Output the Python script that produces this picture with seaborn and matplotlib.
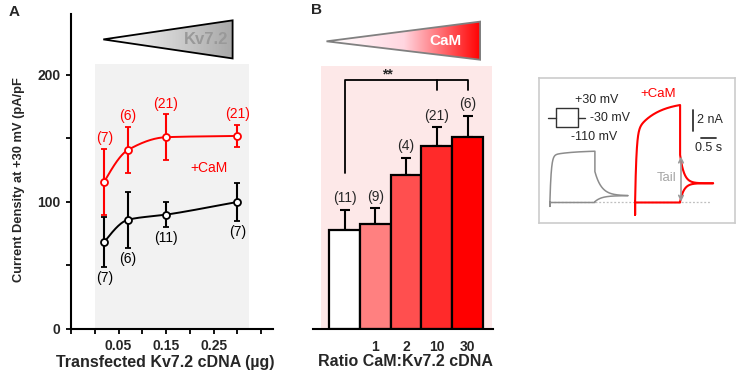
import numpy as np
import matplotlib
matplotlib.use('Agg')
import matplotlib.pyplot as plt
import seaborn as sns
import pandas as pd
from matplotlib.patches import Polygon
from matplotlib.colors import LinearSegmentedColormap

# panel A: current density vs transfected Kv7.2 cDNA
dna_ug = [0.02, 0.07, 0.15, 0.30]
kv_mean = [68.5, 86, 90, 100]
kv_sem = [20, 22, 10, 15]
kv_n = ['(7)', '(6)', '(11)', '(7)']
cam_mean = [116, 141, 151, 152]
cam_sem = [26, 18, 18, 9]
cam_n = ['(7)', '(6)', '(21)', '(21)']

# panel B: CaM:Kv7.2 ratio
ratio_cat = ['0', '1', '2', '10', '30']
ratio_ticks = ['', '1', '2', '10', '30']
ratio_mean = [78, 83, 121, 144, 151]
ratio_sem = [16, 12, 14, 15, 17]
ratio_n = ['(11)', '(9)', '(4)', '(21)', '(6)']
bar_colors = ['#ffffff', '#ff8080', '#ff4f4f', '#ff2a2a', '#ff0000']

# inset traces (s, nA)
step_dur = 1.5
tail_dur = 1.1
ctl_peak, ctl_end, ctl_tail_start, ctl_tail_end = 4.4, 4.8, 2.86, 0.57
cam_peak, cam_end, cam_tail_start, cam_tail_end = 6.6, 9.2, 4.45, 1.75

sns.set_style('white')
plt.rcParams['font.family'] = ['Liberation Sans', 'DejaVu Sans']

RED = '#ff0000'
fig = plt.figure(figsize=(7.38, 3.76), dpi=100)


def pchip(x, y, xs):
    x = np.asarray(x, float)
    y = np.asarray(y, float)
    h = np.diff(x)
    d = np.diff(y) / h
    m = np.zeros(len(x))
    for k in range(1, len(x) - 1):
        if d[k - 1] * d[k] > 0:
            w1 = 2 * h[k] + h[k - 1]
            w2 = h[k] + 2 * h[k - 1]
            m[k] = (w1 + w2) / (w1 / d[k - 1] + w2 / d[k])
    m[0] = ((2 * h[0] + h[1]) * d[0] - h[0] * d[1]) / (h[0] + h[1])
    m[-1] = d[-1]
    out = np.empty_like(xs)
    for i, v in enumerate(xs):
        k = min(np.searchsorted(x, v, side='right') - 1, len(x) - 2)
        t = (v - x[k]) / h[k]
        out[i] = ((2*t**3 - 3*t**2 + 1) * y[k] + (t**3 - 2*t**2 + t) * h[k] * m[k]
                  + (-2*t**3 + 3*t**2) * y[k + 1] + (t**3 - t**2) * h[k] * m[k + 1])
    return out


def gradient_triangle(ax, pts, c0, c1, edge):
    xs = [p[0] for p in pts]
    ys = [p[1] for p in pts]
    grad = np.linspace(0, 1, 256).reshape(1, -1)
    im = ax.imshow(grad, cmap=LinearSegmentedColormap.from_list('g', c0 + [c1]),
                   extent=[min(xs), max(xs), min(ys), max(ys)], aspect='auto',
                   origin='lower', zorder=3)
    poly = Polygon(pts, closed=True, facecolor='none', edgecolor=edge, lw=1.3, zorder=4)
    ax.add_patch(poly)
    im.set_clip_path(poly)


# ---------------- panel A ----------------
axA = fig.add_axes([71/738, 47/376, 202/738, 315/376])
axA.fill_between([0.0, 0.325], 0, 209, color='#f2f2f2', lw=0, zorder=0)
xs = np.linspace(dna_ug[0], dna_ug[-1], 200)
df_fit = pd.DataFrame({'x': np.r_[xs, xs],
                       'y': np.r_[pchip(dna_ug, kv_mean, xs), pchip(dna_ug, cam_mean, xs)],
                       'cond': ['Kv7.2'] * len(xs) + ['+CaM'] * len(xs)})
sns.lineplot(data=df_fit, x='x', y='y', hue='cond', palette={'Kv7.2': 'black', '+CaM': RED},
             lw=1.4, legend=False, ax=axA, zorder=2)
for mean, sem, col, ns, up in [(kv_mean, kv_sem, 'black', kv_n, False),
                               (cam_mean, cam_sem, RED, cam_n, True)]:
    axA.errorbar(dna_ug, mean, yerr=sem, fmt='o', color=col, ms=5, mfc='white', mec=col,
                 mew=1.3, elinewidth=1.5, capsize=2, capthick=1.5, zorder=3)
    for x, m, s, n in zip(dna_ug, mean, sem, ns):
        if up:
            axA.text(x, m + s + 3, n, color=col, fontsize=10, ha='center', va='bottom')
        else:
            axA.text(x, m - s - 3, n, color=col, fontsize=10, ha='center', va='top')
axA.text(0.24, 127, '+CaM', color=RED, fontsize=10, ha='center', va='center')

gradient_triangle(axA, [(0.018, 228), (0.29, 243), (0.29, 213)], ['#ffffff'], '#a8a8a8', 'black')
axA.text(0.235, 228, 'Kv7.2', color='#999999', fontsize=12, fontweight='bold',
         ha='center', va='center', zorder=5)

axA.set_xlim(-0.05, 0.375)
axA.set_ylim(0, 248)
axA.set_xticks([0.05, 0.15, 0.25])
axA.set_xticklabels(['0.05', '0.15', '0.25'])
axA.set_xticks([-0.05, 0.0, 0.1, 0.2, 0.3, 0.35], minor=True)
axA.set_yticks([0, 100, 200])
axA.set_yticks([50, 150], minor=True)
axA.tick_params(which='both', direction='out', length=3.5, width=1.3, color='black',
                labelsize=10, pad=4, bottom=True, left=True)
for lab in axA.get_xticklabels() + axA.get_yticklabels():
    lab.set_fontweight('bold')
for s in ['top', 'right']:
    axA.spines[s].set_visible(False)
for s in ['left', 'bottom']:
    axA.spines[s].set_linewidth(1.5)
    axA.spines[s].set_color('black')
axA.set_xlabel('')
axA.set_ylabel('')

# ---------------- panel B ----------------
axB = fig.add_axes([313/738, 47/376, 180/738, 315/376])
axB.fill_between([-0.78, 4.81], 0, 207, color='#fde8e8', lw=0, zorder=0)
df_b = pd.DataFrame({'ratio': ratio_cat, 'density': ratio_mean})
sns.barplot(data=df_b, x='ratio', y='density', hue='ratio', order=ratio_cat,
            palette=dict(zip(ratio_cat, bar_colors)), saturation=1, width=1.0,
            edgecolor='black', linewidth=1.6, legend=False, ax=axB, zorder=2)
axB.errorbar(range(len(ratio_cat)), ratio_mean, yerr=[np.zeros(len(ratio_sem)), ratio_sem],
             fmt='none', ecolor='black', elinewidth=1.5, capsize=3.5, capthick=1.5, zorder=1)
for i, (m, s, n) in enumerate(zip(ratio_mean, ratio_sem, ratio_n)):
    axB.text(i, m + s + 3.5, n, fontsize=10, ha='center', va='bottom')

# significance bracket
axB.plot([0, 0, 4, 4], [123, 196, 196, 188], color='black', lw=1.3)
axB.plot([3, 3], [188, 196], color='black', lw=1.3)
axB.text(1.4, 195, '**', fontsize=10, fontweight='bold', ha='center', va='bottom')

gradient_triangle(axB, [(-0.59, 226.5), (4.41, 242), (4.41, 212)],
                  ['#ffffff', '#ffd6e0'], RED, '#808080')
axB.text(3.27, 227, 'CaM', color='white', fontsize=11, fontweight='bold',
         ha='center', va='center', zorder=5)

axB.set_xlim(-1.03, 4.83)
axB.set_ylim(0, 248)
axB.set_xticks(range(len(ratio_cat)))
axB.set_xticklabels(ratio_ticks)
axB.set_yticks([])
axB.tick_params(axis='x', length=0, labelsize=10, pad=8)
for lab in axB.get_xticklabels():
    lab.set_fontweight('bold')
for s in ['top', 'right', 'left']:
    axB.spines[s].set_visible(False)
axB.spines['bottom'].set_linewidth(1.5)
axB.spines['bottom'].set_color('black')
axB.set_xlabel('')
axB.set_ylabel('')

# ---------------- inset traces ----------------
axC = fig.add_axes([538.5/738, 152.7/376, 196.5/738, 145.6/376])
axC.set_xlim(0, 6.55)
axC.set_ylim(-2.06, 11.8)
axC.set_xticks([])
axC.set_yticks([])
for s in axC.spines.values():
    s.set_color('#cccccc')
    s.set_linewidth(1.2)

t_on = np.linspace(0, step_dur, 300)
t_off = np.linspace(0, tail_dur, 200)
for t0, peak, end, tail0, tail1, col, lw, dip, tau in [
        (0.38, ctl_peak, ctl_end, ctl_tail_start, ctl_tail_end, '#8c8c8c', 1.1, -0.45, 0.22),
        (3.22, cam_peak, cam_end, cam_tail_start, cam_tail_end, RED, 1.5, -1.25, 0.13)]:
    slow = (end - peak) * (1 - np.exp(-t_on / 0.7)) / (1 - np.exp(-step_dur / 0.7))
    on = peak * (1 - np.exp(-t_on / 0.045)) + slow
    tail = tail1 + (tail0 - tail1) * np.exp(-t_off / tau)
    axC.plot(np.r_[t0, t0, t0 + t_on, t0 + step_dur + t_off],
             np.r_[0, dip, on, tail], color=col, lw=lw)
    low_tail = tail1 * (1 - np.exp(-t_off / tau))
    axC.plot(np.r_[t0, t0 + step_dur, t0 + step_dur + t_off],
             np.r_[-0.08, -0.08, low_tail], color=col, lw=lw)
axC.plot([0.38, 5.72], [0, 0], color='#bfbfbf', lw=0.9, ls=(0, (1.5, 1.5)), zorder=0)
axC.annotate('', xy=(4.75, 0), xytext=(4.75, 4.3),
             arrowprops=dict(arrowstyle='<->', color='#9a9a9a', lw=1.2,
                             shrinkA=0, shrinkB=0, mutation_scale=8))
axC.text(0.654, 0.313, 'Tail', transform=axC.transAxes, color='#a6a6a6', fontsize=9.5,
         ha='center', va='center')
axC.text(0.608, 0.885, '+CaM', transform=axC.transAxes, color=RED, fontsize=9.5,
         ha='center', va='center')

# voltage protocol
prot_x = [0.047, 0.0875, 0.0875, 0.2025, 0.2025, 0.237]
prot_y = [0.725, 0.725, 0.794, 0.794, 0.725, 0.725]
axC.plot(prot_x, prot_y, transform=axC.transAxes, color='#333333', lw=1.0)
axC.plot([0.0875, 0.0875, 0.2025, 0.2025], [0.725, 0.659, 0.659, 0.725],
         transform=axC.transAxes, color='#333333', lw=1.0)
axC.text(0.296, 0.85, '+30 mV', transform=axC.transAxes, fontsize=9, ha='center', va='center')
axC.text(0.262, 0.725, '-30 mV', transform=axC.transAxes, fontsize=9, ha='left', va='center')
axC.text(0.284, 0.595, '-110 mV', transform=axC.transAxes, fontsize=9, ha='center', va='center')

# scale bars
axC.plot([5.14, 5.14], [6.73, 8.73], color='#333333', lw=1.3)
axC.plot([5.42, 5.92], [6.04, 6.04], color='#333333', lw=1.3)
axC.text(5.3, 7.73, '2 nA', fontsize=9, ha='left', va='center')
axC.text(5.67, 5.1, '0.5 s', fontsize=9, ha='center', va='center')

# labels
fig.text(14/738, 1 - 12/376, 'A', fontsize=11, fontweight='bold', ha='center', va='center')
fig.text(317/738, 1 - 10/376, 'B', fontsize=11, fontweight='bold', ha='center', va='center')
fig.text(19/738, 1 - 180/376, 'Current Density at +30 mV (pA/pF', fontsize=9.3,
         fontweight='bold', rotation=90, ha='center', va='center')
fig.text(165/738, 1 - 362/376, 'Transfected Kv7.2 cDNA (µg)', fontsize=11.5,
         fontweight='bold', ha='center', va='center')
fig.text(405/738, 1 - 362/376, 'Ratio CaM:Kv7.2 cDNA', fontsize=11.5,
         fontweight='bold', ha='center', va='center')

fig.savefig('out.png', dpi=100)
